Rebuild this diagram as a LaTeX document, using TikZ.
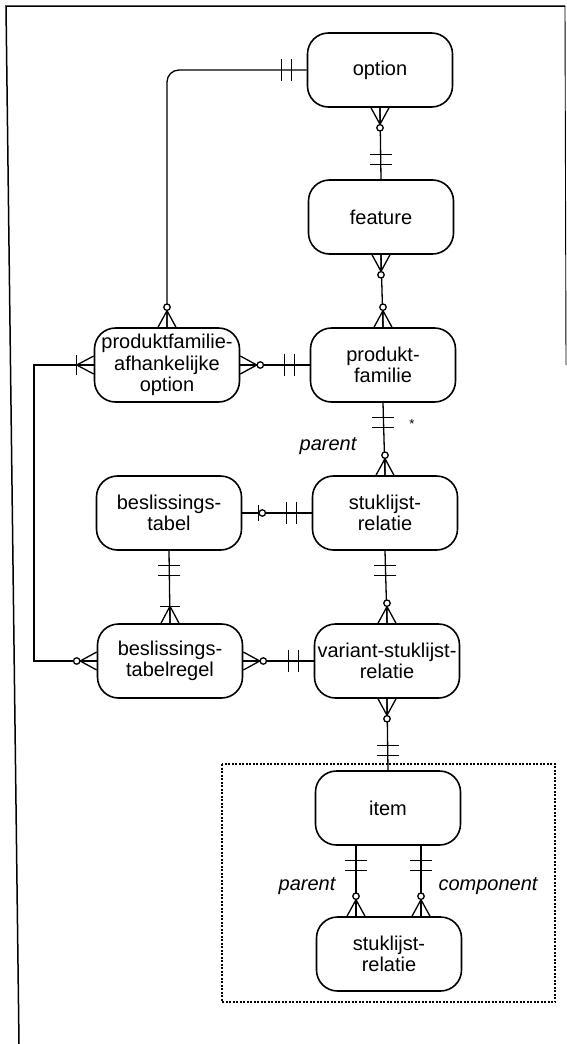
\documentclass[tikz,border=0pt]{standalone}
\usepackage{fontspec}
\setmainfont{Liberation Sans}
\usetikzlibrary{calc}
\tikzset{
  ent/.style={draw, line width=1.6pt, rounded corners=21pt, minimum width=145pt, minimum height=74pt,
    align=center, inner sep=1pt, font=\fontsize{20}{21.5}\selectfont},
  conn/.style={line width=1.3pt},
  role/.style={font=\fontsize{20}{21.5}\selectfont\itshape},
  crowO/.pic={\draw[conn] (16.5,0) -- (0,-9) (16.5,0) -- (0,0) (16.5,0) -- (0,9);
              \draw[conn, fill=white] (20,0) circle (3.2);},
  crowB/.pic={\draw[conn] (17,0) -- (0,-9) (17,0) -- (0,0) (17,0) -- (0,9);
              \draw[conn] (17,-10) -- (17,10);},
  twobars/.pic={\draw[conn] (15,-11) -- (15,11) (25,-11) -- (25,11);},
  barO/.pic={\draw[conn] (16,-8) -- (16,8); \draw[conn, fill=white] (20,0) circle (3.2);},
  groupbox/.style={line width=1.3pt, dash pattern=on 2pt off 1.5pt},
  frameline/.style={line width=1.5pt}
}
\begin{document}
\begin{tikzpicture}[x=1pt, y=-1pt]
\useasboundingbox (0,0) rectangle (567,1044);
% frame
\draw[frameline] (19,1044) -- (6,6) -- (565,6);
\draw[line width=0.9pt] (565,6) -- (566,365);
% entities
\node[ent] (opt)  at (380,70)  {option};
\node[ent] (feat) at (381,217) {feature};
\node[ent] (pao)  at (167,365) {produktfamilie-\\afhankelijke\\option};
\node[ent] (pf)   at (383,365) {produkt-\\familie};
\node[ent] (best) at (169,513) {beslissings-\\tabel};
\node[ent] (stk)  at (385,513) {stuklijst-\\relatie};
\node[ent] (btr)  at (170,661) {beslissings-\\tabelregel};
\node[ent] (var)  at (387,661) {variant-stuklijst-\\relatie};
\node[ent] (item) at (388,808) {item};
\node[ent] (stk2) at (389,954) {stuklijst-\\relatie};
% group box
\draw[groupbox] (222,764) rectangle (555,1002);
% connectors
\draw[conn, rounded corners=12pt] (opt.west) -| (pao.north);
\pic[rotate=180] at (opt.west) {twobars};
\pic[rotate=90] at (pao.north) {crowO};

\draw[conn] (opt.south) -- (feat.north);
\pic[rotate=-90] at (opt.south) {crowO};
\pic[rotate=90] at (feat.north) {twobars};

\draw[conn] (feat.south) -- (pf.north);
\pic[rotate=-90] at (feat.south) {crowO};
\pic[rotate=90] at (pf.north) {crowO};

\draw[conn] (pao.east) -- (pf.west);
\pic[rotate=0] at (pao.east) {crowO};
\pic[rotate=180] at (pf.west) {twobars};

\coordinate (bend) at (34,0);
\draw[conn] (pao.west) -- (bend |- pao.west) -- (bend |- btr.west) -- (btr.west);
\pic[rotate=180] at (pao.west) {crowB};
\pic[rotate=180] at (btr.west) {crowO};

\draw[conn] (pf.south) -- (stk.north);
\pic[rotate=-90] at (pf.south) {twobars};
\pic[rotate=90] at (stk.north) {crowO};
\node[font=\fontsize{13}{13}\selectfont] (star) at (412,424) {*};
\node[role] (par1) at (328,446) {parent};

\draw[conn] (best.east) -- (stk.west);
\pic[rotate=0] at (best.east) {barO};
\pic[rotate=180] at (stk.west) {twobars};

\draw[conn] (best.south) -- (btr.north);
\pic[rotate=-90] at (best.south) {twobars};
\pic[rotate=90] at (btr.north) {crowB};

\draw[conn] (stk.south) -- (var.north);
\pic[rotate=-90] at (stk.south) {twobars};
\pic[rotate=90] at (var.north) {crowO};

\draw[conn] (btr.east) -- (var.west);
\pic[rotate=0] at (btr.east) {crowO};
\pic[rotate=180] at (var.west) {twobars};

\draw[conn] (var.south) -- (item.north);
\pic[rotate=-90] at (var.south) {crowO};
\pic[rotate=90] at (item.north) {twobars};

\coordinate (pl) at (356,0);
\coordinate (pr) at (421,0);
\draw[conn] (item.south -| pl) -- (stk2.north -| pl);
\pic[rotate=-90] at (item.south -| pl) {twobars};
\pic[rotate=90] at (stk2.north -| pl) {crowO};
\draw[conn] (item.south -| pr) -- (stk2.north -| pr);
\pic[rotate=-90] at (item.south -| pr) {twobars};
\pic[rotate=90] at (stk2.north -| pr) {crowO};
\node[role] (par2) at (307,886) {parent};
\node[role] (comp) at (488,886) {component};
\end{tikzpicture}
\end{document}
